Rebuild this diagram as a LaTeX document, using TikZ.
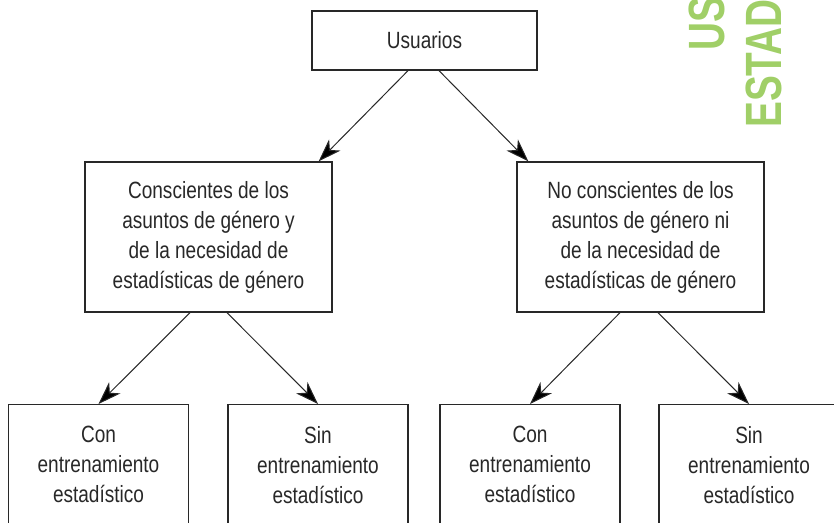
\documentclass[tikz,border=0pt]{standalone}
\usepackage{fontspec}
\usepackage{tikz}
\usetikzlibrary{arrows.meta, calc}

\newfontfamily\condfont[FakeStretch=0.81]{Liberation Sans}
\newfontfamily\headfont[FakeStretch=0.76]{Liberation Sans Bold}
\definecolor{inkGray}{RGB}{40,40,40}
\definecolor{headGreen}{RGB}{160,207,103}

\begin{document}
\begin{tikzpicture}[
        x=1pt,
        y=-1pt,
        every node/.style={font=\condfont\fontsize{23.5}{30}\selectfont, text=inkGray},
        % Boxes of the tree
        box/.style={draw=inkGray, line width=1.3pt, align=center, inner sep=0pt},
        topBox/.style={box, minimum width=225pt, minimum height=59pt},
        midBox/.style={box, minimum width=247pt, minimum height=150pt},
        leafBox/.style={box, anchor=north, minimum width=180pt, minimum height=120pt},
        link/.style={draw=inkGray, line width=1pt, -{Stealth[length=23pt, width=16pt, inset=7pt, fill=black]}}
    ]
        % Define page frame
        \useasboundingbox (0,0) rectangle (834,522);
        \clip (0,0) rectangle (834,522);
        
        % Cut-off running head on the right margin
        \node[font=\headfont\fontsize{51}{51}\selectfont, text=headGreen, rotate=90, anchor=base west, inner sep=0pt] (headUs) at (724,51) {US};
        \node[font=\headfont\fontsize{51}{51}\selectfont, text=headGreen, rotate=90, anchor=base west, inner sep=0pt] (headEstad) at (781,128) {ESTAD};
        
        % Top level
        \node[topBox] (users) at (424.5,40.5) {Usuarios};
        
        % Second level
        \node[midBox] (aware) at (208.5,237) {Conscientes de los\\asuntos de género y\\de la necesidad de\\estadísticas de género};
        \node[midBox] (unaware) at (640.5,237) {No conscientes de los\\asuntos de género ni\\de la necesidad de\\estadísticas de género};
        
        % Third level - boxes run off the bottom of the page
        \node[leafBox] (awareWith) at (98.5,404) {Con\\entrenamiento\\estadístico};
        \node[leafBox] (awareWithout) at (318,404) {Sin\\entrenamiento\\estadístico};
        \node[leafBox] (unawareWith) at (530,404) {Con\\entrenamiento\\estadístico};
        \node[leafBox] (unawareWithout) at (749,404) {Sin\\entrenamiento\\estadístico};
        
        % Connectors
        \draw[link] ($(users.south)+(-16.5,0)$) -- ($(aware.north east)+(-14,0)$);
        \draw[link] ($(users.south)+(14.5,0)$) -- ($(unaware.north west)+(12,0)$);
        \draw[link] ($(aware.south)+(-18.5,0)$) -- (awareWith.north);
        \draw[link] ($(aware.south)+(18.5,0)$) -- (awareWithout.north);
        \draw[link] ($(unaware.south)+(-20.5,0)$) -- (unawareWith.north);
        \draw[link] ($(unaware.south)+(17.5,0)$) -- (unawareWithout.north);
        
    \end{tikzpicture}
\end{document}
